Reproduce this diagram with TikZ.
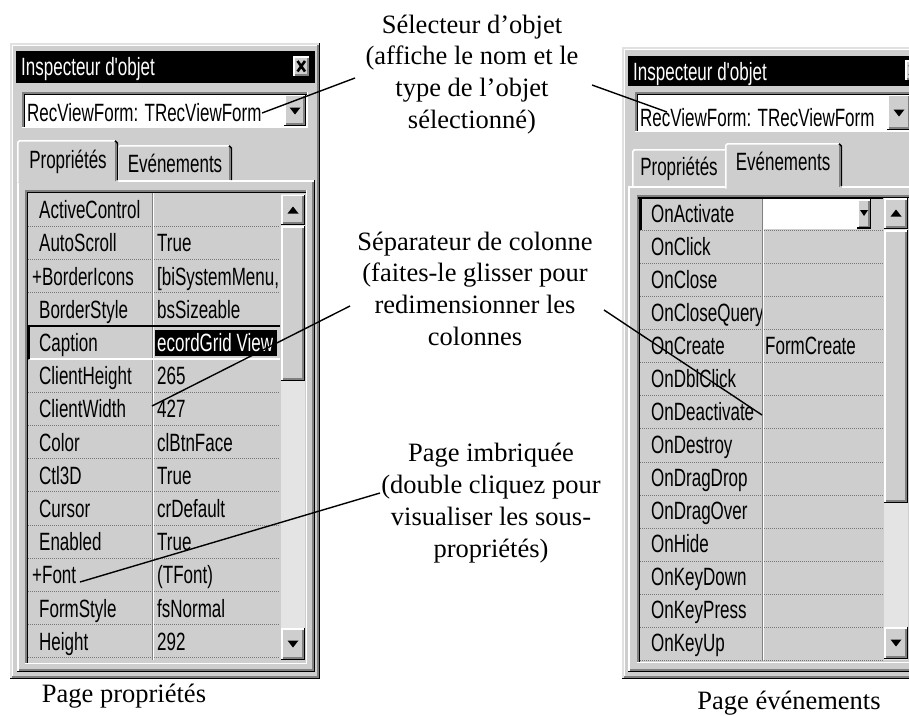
\documentclass[tikz,border=0pt]{standalone}
\usepackage{fontspec}
\setmainfont{Liberation Serif}
\newfontfamily\uifont[FakeStretch=0.68]{Liberation Sans}
\definecolor{face}{RGB}{206,206,206}
\definecolor{shad}{RGB}{128,128,128}
\definecolor{hilite}{RGB}{255,255,255}
\definecolor{trackc}{RGB}{228,228,228}
\definecolor{dotc}{RGB}{120,120,120}
\definecolor{outerlt}{RGB}{225,225,225}
\newcommand{\winup}[4]{%
  \fill[face] (#1,#2) rectangle (#3,#4);
  \draw[hilite,line width=1.5pt] (#1+0.75,#4) -- (#1+0.75,#2+0.75) -- (#3,#2+0.75);
  \draw[black,line width=1.5pt] (#1,#4-0.75) -- (#3-0.75,#4-0.75) -- (#3-0.75,#2);
  \draw[shad,line width=1.5pt] (#1+1.5,#4-2.25) -- (#3-2.25,#4-2.25) -- (#3-2.25,#2+1.5);
}
\newcommand{\windown}[5]{%
  \fill[#5] (#1,#2) rectangle (#3,#4);
  \draw[shad,line width=1.5pt] (#1+0.75,#4) -- (#1+0.75,#2+0.75) -- (#3,#2+0.75);
  \draw[black,line width=1.5pt] (#1+2.25,#4-1.5) -- (#1+2.25,#2+2.25) -- (#3-1.5,#2+2.25);
  \draw[hilite,line width=1.5pt] (#1,#4-0.75) -- (#3-0.75,#4-0.75) -- (#3-0.75,#2);
}
\newcommand{\tridown}[2]{\fill[black] (#1-5.5,#2-3.5) -- (#1+5.5,#2-3.5) -- (#1,#2+3.5) -- cycle;}
\newcommand{\triup}[2]{\fill[black] (#1-5.5,#2+3.5) -- (#1+5.5,#2+3.5) -- (#1,#2-3.5) -- cycle;}
\tikzset{
  ui/.style={font=\uifont\fontsize{25}{25}\selectfont, inner sep=0pt, anchor=base west},
  uic/.style={font=\uifont\fontsize{25}{25}\selectfont, inner sep=0pt, anchor=base},
  lbl/.style={font=\fontsize{26.5}{31.8}\selectfont, align=center, inner sep=0pt},
  rowsep/.style={dotc, line width=0.8pt, dash pattern=on 1pt off 1pt},
  conn/.style={black, line width=1.4pt},
}
\begin{document}
\begin{tikzpicture}[x=1pt,y=-1pt]
\useasboundingbox (0,0) rectangle (909,715);
\fill[white] (0,0) rectangle (909,715);

%================ LEFT WINDOW =================
\fill[face] (10,43) rectangle (320,679);
\draw[outerlt,line width=1.5pt] (10.75,679) -- (10.75,43.75) -- (320,43.75);
\draw[hilite,line width=1.5pt] (12.25,677) -- (12.25,45.25) -- (318,45.25);
\draw[black,line width=1.5pt] (10,678.25) -- (319.25,678.25) -- (319.25,43);
\draw[shad,line width=1.5pt] (12,676.75) -- (317.75,676.75) -- (317.75,45);
% title bar
\fill[black] (16,51) rectangle (315,83);
\node[ui,text=white] (titleL) at (21,75) {Inspecteur d'objet};
\winup{293}{56}{310}{77}
\draw[black,line width=2.6pt] (297.5,61) -- (305,71.5) (297.5,71.5) -- (305,61);
% combo
\windown{22}{92}{308}{128}{white}
\winup{284}{94.5}{306}{126}
\tridown{295}{111}
\node[ui] (combL) at (27,121) {RecViewForm: TRecViewForm};
% page frame
\draw[hilite,line width=1.5pt] (17.75,672) -- (17.75,180.75) -- (314,180.75);
\draw[black,line width=1.5pt] (17,671.25) -- (314.25,671.25) -- (314.25,180);
\draw[shad,line width=1.5pt] (19,669.75) -- (312.75,669.75) -- (312.75,182);
% inactive tab
\fill[face] (118,145) rectangle (232,180);
\draw[hilite,line width=1.5pt] (118,180) -- (118,147.5) -- (120,145.75) -- (229,145.75);
\draw[black,line width=1.5pt] (229,145.75) -- (231.25,148) -- (231.25,180);
\draw[shad,line width=1.2pt] (229.5,148) -- (229.5,180);
\node[uic] (tabLe) at (175,172) {Evénements};
% active tab
\fill[face] (17,140) rectangle (118,182.5);
\draw[hilite,line width=1.5pt] (17.75,182.5) -- (17.75,142.5) -- (19.5,140.75) -- (115,140.75);
\draw[black,line width=1.5pt] (115,140.75) -- (117.25,143) -- (117.25,180);
\draw[shad,line width=1.2pt] (115.5,143) -- (115.5,181);
\node[uic] (tabLp) at (68,168) {Propriétés};
% grid
\windown{25}{190}{307}{664}{face}
\foreach \xx/\n/\v [count=\i from 0] in {39/ActiveControl/{}, 39/AutoScroll/True, 32/+BorderIcons/{[biSystemMenu,}, 39/BorderStyle/bsSizeable, 39/Caption/{}, 39/ClientHeight/265, 39/ClientWidth/427, 39/Color/clBtnFace, 39/Ctl3D/True, 39/Cursor/crDefault, 39/Enabled/True, 32/+Font/(TFont), 39/FormStyle/fsNormal, 39/Height/292}
{
  \node[ui] (pn\i) at (\xx,{218.6+33.2*\i}) {\n};
  \node[ui] (pv\i) at (157,{218.6+33.2*\i}) {\v};
  \draw[rowsep] (28,{226.2+33.2*\i}) -- (280,{226.2+33.2*\i});
}
% column separator
\draw[shad,line width=1pt] (152,193) -- (152,660);
\draw[hilite,line width=1pt] (153.3,193) -- (153.3,660);
% selected Caption row
\draw[black,line width=2pt] (27,325.8) -- (280,325.8);
\draw[black,line width=3pt] (28.5,325) -- (28.5,359);
\draw[hilite,line width=1.5pt] (30,359) -- (280,359);
\fill[black] (155,329.5) rectangle (277,356);
\begin{scope}
  \clip (155,329.5) rectangle (277,356);
  \node[ui,text=white] (capval) at (157,351.4) {ecordGrid View};
\end{scope}
% scrollbar
\fill[trackc] (281,194) rectangle (305,660);
\winup{281}{194.5}{305}{225}
\triup{293}{210}
\winup{281}{226}{305}{381}
\winup{281}{628}{305}{660}
\tridown{293}{644}

%================ RIGHT WINDOW =================
\begin{scope}
\clip (0,0) rectangle (909,715);
\fill[face] (622,47) rectangle (935,679);
\draw[outerlt,line width=1.5pt] (622.75,679) -- (622.75,47.75) -- (935,47.75);
\draw[hilite,line width=1.5pt] (624.25,677) -- (624.25,49.25) -- (935,49.25);
\draw[black,line width=1.5pt] (622,678.25) -- (935,678.25);
\draw[shad,line width=1.5pt] (624,676.75) -- (935,676.75);
% title bar
\fill[black] (628,56) rectangle (935,86);
\node[ui,text=white] (titleR) at (633,80) {Inspecteur d'objet};
\winup{905}{60}{922}{81}
\draw[black,line width=2.6pt] (909.5,65) -- (917,75.5) (909.5,75.5) -- (917,65);
% combo
\windown{635}{92}{935}{132}{white}
\winup{887}{94.5}{911}{130}
\tridown{899}{113}
\node[ui] (combR) at (640,126) {RecViewForm: TRecViewForm};
% page frame
\draw[hilite,line width=1.5pt] (628.75,672) -- (628.75,186.75) -- (935,186.75);
\draw[black,line width=1.5pt] (628,671.25) -- (935,671.25);
\draw[shad,line width=1.5pt] (630,669.75) -- (935,669.75);
% inactive tab
\fill[face] (632,149) rectangle (725,186);
\draw[hilite,line width=1.5pt] (632.75,186) -- (632.75,151.5) -- (634.5,149.75) -- (725,149.75);
\node[uic] (tabRp) at (679,175) {Propriétés};
% active tab
\fill[face] (725,143) rectangle (842,188.5);
\draw[hilite,line width=1.5pt] (725.75,188.5) -- (725.75,145.5) -- (727.5,143.75) -- (839,143.75);
\draw[black,line width=1.5pt] (839,143.75) -- (841.25,146) -- (841.25,186);
\draw[shad,line width=1.2pt] (839.5,146) -- (839.5,187);
\node[uic] (tabRe) at (783,170) {Evénements};
% grid
\windown{637}{195}{911}{663}{face}
\fill[white] (763,199) rectangle (857,228.5);
\winup{857}{199}{871}{228.5}
\fill[black] (860,210) -- (868,210) -- (864,216) -- cycle;
\foreach \n [count=\i from 0] in {OnActivate, OnClick, OnClose, OnCloseQuery, OnCreate, OnDblClick, OnDeactivate, OnDestroy, OnDragDrop, OnDragOver, OnHide, OnKeyDown, OnKeyPress, OnKeyUp}
{
  \node[ui] (en\i) at (651,{222+33.05*\i}) {\n};
  \draw[rowsep] (640,{230.55+33.05*\i}) -- (883,{230.55+33.05*\i});
}
\node[ui] (ev4) at (765,354.2) {FormCreate};
\draw[shad,line width=1pt] (762,197) -- (762,660);
\draw[hilite,line width=1pt] (763.3,229) -- (763.3,660);
% selected OnActivate row
\draw[black,line width=2pt] (638,197.8) -- (883,197.8);
\draw[black,line width=3pt] (640.5,197) -- (640.5,230);
% scrollbar
\fill[trackc] (884,198) rectangle (908,660);
\winup{884}{198}{908}{229}
\triup{896}{213}
\winup{884}{230}{908}{503}
\winup{884}{627}{908}{659}
\tridown{896}{643}
\end{scope}

%================ ANNOTATIONS =================
\node[lbl,anchor=north] (selA) at (472,14.5) {Sélecteur d'objet\\(affiche le nom et le\\type de l'objet\\sélectionné)};
\node[lbl,anchor=north] (sepB) at (475,231.5) {Séparateur de colonne\\(faites-le glisser pour\\redimensionner les\\colonnes};
\node[lbl,anchor=north] (imbC) at (491,443) {Page imbriquée\\(double cliquez pour\\visualiser les sous-\\propriétés)};
\node[lbl,anchor=base] (capL) at (124,702) {Page propriétés};
\node[lbl,anchor=base] (capR) at (789,709) {Page événements};

\coordinate (aSelL) at (355,78);  \coordinate (tSelL) at (262,113);
\coordinate (aSelR) at (592,85);  \coordinate (tSelR) at (667,112);
\coordinate (aSepL) at (350,306); \coordinate (tSepL) at (152,406);
\coordinate (aSepR) at (604,310); \coordinate (tSepR) at (762,415);
\coordinate (aImb) at (380,493);  \coordinate (tImb) at (80,582);
\draw[conn] (aSelL) -- (tSelL);
\draw[conn] (aSelR) -- (tSelR);
\draw[conn] (aSepL) -- (tSepL);
\draw[conn] (aSepR) -- (tSepR);
\draw[conn] (aImb) -- (tImb);
\end{tikzpicture}
\end{document}
